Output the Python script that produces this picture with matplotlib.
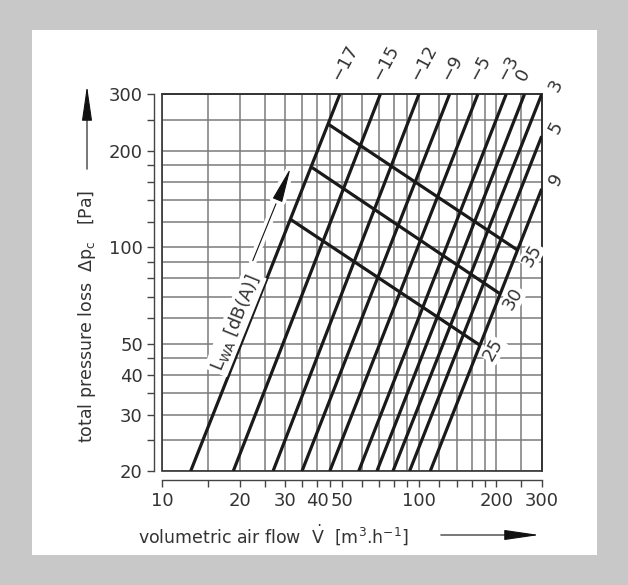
import matplotlib
matplotlib.use("Agg")
import matplotlib.pyplot as plt
import matplotlib.patheffects as pe
from matplotlib.patches import Rectangle
from matplotlib.ticker import NullFormatter

# resistance curves (flow at 20 Pa, flow/pressure where curve leaves the grid)
curve_labels = ['−17', '−15', '−12', '−9', '−5', '−3', '0', '3', '5', '9']
v_start = [12.9, 18.9, 27.0, 35.0, 44.9, 58.2, 68.5, 79.1, 91.8, 110.5]
p_start = [20] * 10
v_end = [49.1, 70.6, 99.8, 131.3, 169.2, 218.1, 257, 300, 300, 300]
p_end = [300, 300, 300, 300, 300, 300, 300, 300, 222, 152]

# sound power level lines L_WA
lwa_labels = ['25', '30', '35']
lwa_v = [(31.6, 171.8), (38.3, 205.4), (44.5, 242.0)]
lwa_p = [(122.0, 49.5), (177.2, 71.7), (241.4, 97.8)]

x_major = [10, 20, 30, 40, 50, 100, 200, 300]
x_minor = [15, 25, 35, 45, 60, 70, 80, 90, 120, 140, 160, 180, 250]
y_major = [20, 30, 40, 50, 100, 200, 300]
y_minor = [25, 35, 45, 60, 70, 80, 90, 120, 140, 160, 180, 250]

txt = '#333333'
ink = '#1a1a1a'
W, H = 628, 585
head = '-|>,head_length=1.1,head_width=0.16'

fig = plt.figure(figsize=(W / 100, H / 100), dpi=100, facecolor='#c8c8c8')
fig.add_artist(Rectangle((32 / W, 30 / H), 565 / W, 525 / H, transform=fig.transFigure,
                         facecolor='white', edgecolor='none', zorder=0))

ax = fig.add_axes([162.3 / W, 114 / H, 379.4 / W, 376.7 / H])
ax.set_xscale('log')
ax.set_yscale('log')
ax.set_xlim(10, 300)
ax.set_ylim(20, 300)

ax.set_xticks(x_major)
ax.set_xticks(x_minor, minor=True)
ax.set_xticklabels([str(v) for v in x_major])
ax.xaxis.set_minor_formatter(NullFormatter())
ax.set_yticks(y_major)
ax.set_yticks(y_minor, minor=True)
ax.set_yticklabels([str(v) for v in y_major])
ax.yaxis.set_minor_formatter(NullFormatter())

ax.tick_params(which='both', direction='out', length=5, width=1.0, color='#444',
               labelsize=13, labelcolor=txt)
ax.tick_params(axis='x', pad=3.5)
ax.tick_params(axis='y', pad=3)

ax.grid(which='both', color='#7a7a7a', lw=1.1)
ax.set_axisbelow(True)

for s in ['top', 'right']:
    ax.spines[s].set_color('#333')
    ax.spines[s].set_linewidth(1.2)
ax.spines['left'].set_position(('outward', 6))
ax.spines['bottom'].set_position(('outward', 6.5))
for s in ['left', 'bottom']:
    ax.spines[s].set_color('#444')
    ax.spines[s].set_linewidth(1.0)
ax.add_patch(Rectangle((0, 0), 1, 1, transform=ax.transAxes, fill=False,
                       edgecolor='#333', lw=1.2, clip_on=False, zorder=3))

# resistance curves
for i in range(len(curve_labels)):
    ax.plot([v_start[i], v_end[i]], [p_start[i], p_end[i]], color=ink, lw=2.3,
            solid_capstyle='butt', zorder=4)
    if p_end[i] >= 300 and v_end[i] < 300:
        ax.annotate(curve_labels[i], (v_end[i], p_end[i]), xytext=(4, 10),
                    textcoords='offset pixels', rotation=62, rotation_mode='anchor',
                    ha='left', va='bottom', fontsize=13, color=txt,
                    annotation_clip=False)
    else:
        ax.annotate(curve_labels[i], (v_end[i], p_end[i]), xytext=(14, 9),
                    textcoords='offset pixels', rotation=62,
                    ha='center', va='center', fontsize=13, color=txt,
                    annotation_clip=False)

# sound level lines
for lab, vv, pp in zip(lwa_labels, lwa_v, lwa_p):
    ax.plot(vv, pp, color=ink, lw=2.3, solid_capstyle='butt', zorder=4)
    ax.annotate(lab, (vv[1], pp[1]), xytext=(14, -5), textcoords='offset pixels',
                rotation=60, ha='center', va='center', fontsize=13, color=txt,
                bbox=dict(fc='white', ec='none', pad=0.5))

# L_WA label and arrow
ax.text(19.2, 57.9, r'L$_{\mathrm{WA}}$ [dB(A)]', rotation=68, ha='center', va='center',
        fontsize=13, color=txt, zorder=5, bbox=dict(fc='white', ec='none', pad=1.5))
ax.annotate('', xy=(31.9, 180.2), xytext=(22.3, 89.1),
            arrowprops=dict(arrowstyle=head, mutation_scale=20, color='#111', lw=0.8,
                            path_effects=[pe.Stroke(linewidth=6, foreground='white'),
                                          pe.Normal()]),
            zorder=5)

# axis titles with arrows
fig.text(87 / W, (H - 316) / H, r'total pressure loss  $\Delta$p$_\mathrm{c}$   [Pa]',
         rotation=90, ha='center', va='center', fontsize=12.5, color=txt)
ax.annotate('', xy=(87, H - 83), xycoords='figure pixels', xytext=(87, H - 172),
            textcoords='figure pixels',
            arrowprops=dict(arrowstyle=head, mutation_scale=20, color='#111', lw=0.8))

fig.text(138 / W, (H - 535) / H,
         r'volumetric air flow  $\dot{\mathrm{V}}$  [m$^\mathrm{3}$.h$^{\mathrm{-1}}$]',
         ha='left', va='center', fontsize=12.5, color=txt)
ax.annotate('', xy=(542, H - 535), xycoords='figure pixels', xytext=(438, H - 535),
            textcoords='figure pixels',
            arrowprops=dict(arrowstyle=head, mutation_scale=20, color='#111', lw=0.8))

fig.savefig('out.png', dpi=100, facecolor=fig.get_facecolor())
